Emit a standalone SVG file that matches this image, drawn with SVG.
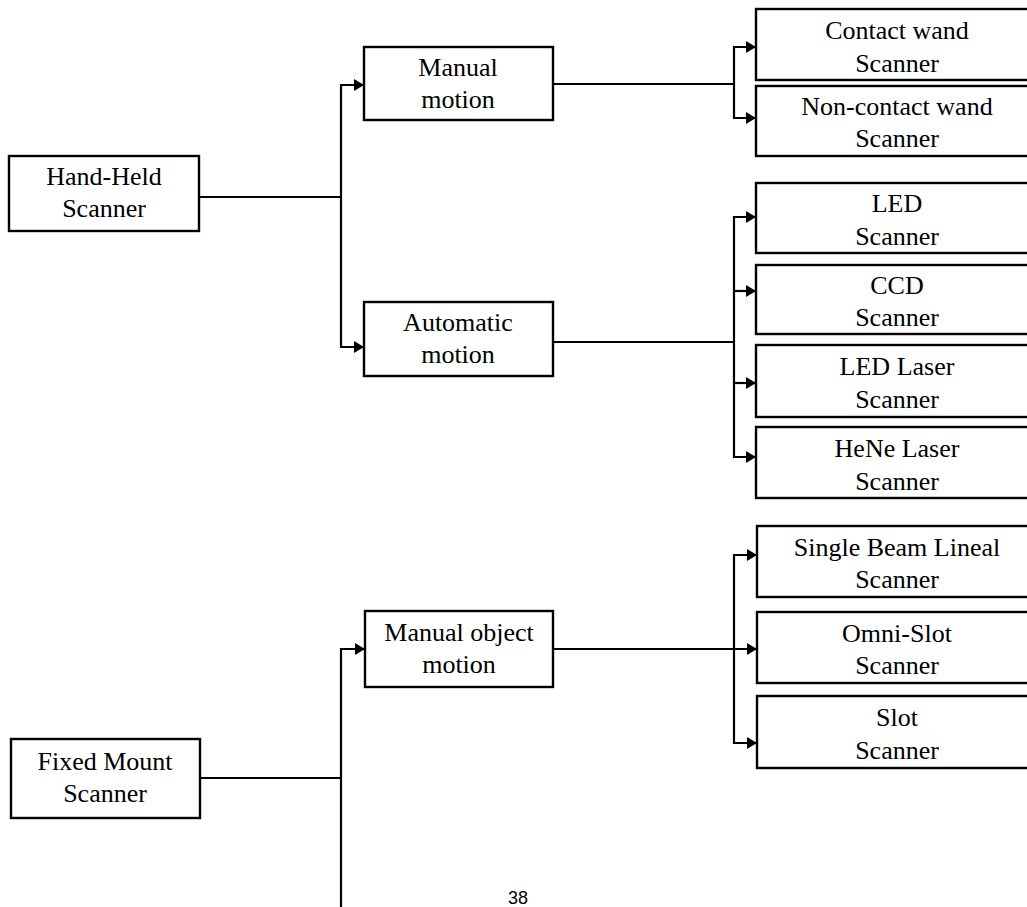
<svg xmlns="http://www.w3.org/2000/svg" width="1027" height="907" viewBox="0 0 1027 907">
<style>
.box{fill:#fff;stroke:#000;stroke-width:2.4}
.t{font-family:"Liberation Serif","Times New Roman",serif;font-size:26px;fill:#000;text-anchor:middle}
.c{fill:none;stroke:#000;stroke-width:2.2}
.pg{font-family:"Liberation Sans",Arial,sans-serif;font-size:18px;fill:#000;text-anchor:middle}
</style>
<defs>
<marker id="ah" markerUnits="userSpaceOnUse" markerWidth="10" markerHeight="12" refX="10" refY="6" orient="auto">
<path d="M0,0 L10,6 L0,12 z" fill="#000"/>
</marker>
</defs>
<rect width="1027" height="907" fill="#fff"/>
<g id="connectors">
<path class="c" d="M199 197 H341"/>
<path class="c" d="M341 197 V85 H364" marker-end="url(#ah)"/>
<path class="c" d="M341 197 V347 H364" marker-end="url(#ah)"/>
<path class="c" d="M553 84 H734"/>
<path class="c" d="M734 84 V47 H756" marker-end="url(#ah)"/>
<path class="c" d="M734 84 V118 H756" marker-end="url(#ah)"/>
<path class="c" d="M553 342 H734"/>
<path class="c" d="M734 342 V217 H756" marker-end="url(#ah)"/>
<path class="c" d="M734 291 H756" marker-end="url(#ah)"/>
<path class="c" d="M734 383 H756" marker-end="url(#ah)"/>
<path class="c" d="M734 342 V457 H756" marker-end="url(#ah)"/>
<path class="c" d="M200 778 H341"/>
<path class="c" d="M341 778 V649 H365" marker-end="url(#ah)"/>
<path class="c" d="M341 778 V907"/>
<path class="c" d="M553 649 H757" marker-end="url(#ah)"/>
<path class="c" d="M734 649 V555 H757" marker-end="url(#ah)"/>
<path class="c" d="M734 649 V743 H757" marker-end="url(#ah)"/>
</g>
<g id="hand-held">
<rect class="box" x="9" y="156" width="190" height="75"/>
<text class="t" x="104" y="185">Hand-Held</text>
<text class="t" x="104" y="217">Scanner</text>
</g>
<g id="manual-motion">
<rect class="box" x="364" y="47" width="189" height="73"/>
<text class="t" x="458" y="76">Manual</text>
<text class="t" x="458" y="108">motion</text>
</g>
<g id="automatic-motion">
<rect class="box" x="364" y="302" width="189" height="74"/>
<text class="t" x="458" y="331">Automatic</text>
<text class="t" x="458" y="363">motion</text>
</g>
<g id="contact-wand">
<rect class="box" x="756" y="9" width="282" height="71"/>
<text class="t" x="897" y="39">Contact wand</text>
<text class="t" x="897" y="72">Scanner</text>
</g>
<g id="non-contact-wand">
<rect class="box" x="756" y="86" width="282" height="70"/>
<text class="t" x="897" y="115">Non-contact wand</text>
<text class="t" x="897" y="147">Scanner</text>
</g>
<g id="led">
<rect class="box" x="756" y="183" width="282" height="70"/>
<text class="t" x="897" y="212">LED</text>
<text class="t" x="897" y="245">Scanner</text>
</g>
<g id="ccd">
<rect class="box" x="756" y="265" width="282" height="69"/>
<text class="t" x="897" y="294">CCD</text>
<text class="t" x="897" y="326">Scanner</text>
</g>
<g id="led-laser">
<rect class="box" x="756" y="345" width="282" height="72"/>
<text class="t" x="897" y="375">LED Laser</text>
<text class="t" x="897" y="408">Scanner</text>
</g>
<g id="hene-laser">
<rect class="box" x="756" y="427" width="282" height="71"/>
<text class="t" x="897" y="457">HeNe Laser</text>
<text class="t" x="897" y="490">Scanner</text>
</g>
<g id="fixed-mount">
<rect class="box" x="11" y="739" width="189" height="79"/>
<text class="t" x="105" y="770">Fixed Mount</text>
<text class="t" x="105" y="802">Scanner</text>
</g>
<g id="manual-object-motion">
<rect class="box" x="365" y="611" width="188" height="76"/>
<text class="t" x="459" y="641">Manual object</text>
<text class="t" x="459" y="673">motion</text>
</g>
<g id="single-beam">
<rect class="box" x="757" y="526" width="281" height="71"/>
<text class="t" x="897" y="556">Single Beam Lineal</text>
<text class="t" x="897" y="588">Scanner</text>
</g>
<g id="omni-slot">
<rect class="box" x="757" y="612" width="281" height="71"/>
<text class="t" x="897" y="642">Omni-Slot</text>
<text class="t" x="897" y="674">Scanner</text>
</g>
<g id="slot">
<rect class="box" x="757" y="696" width="281" height="72"/>
<text class="t" x="897" y="726">Slot</text>
<text class="t" x="897" y="759">Scanner</text>
</g>
<text class="pg" x="518" y="904">38</text>
</svg>
